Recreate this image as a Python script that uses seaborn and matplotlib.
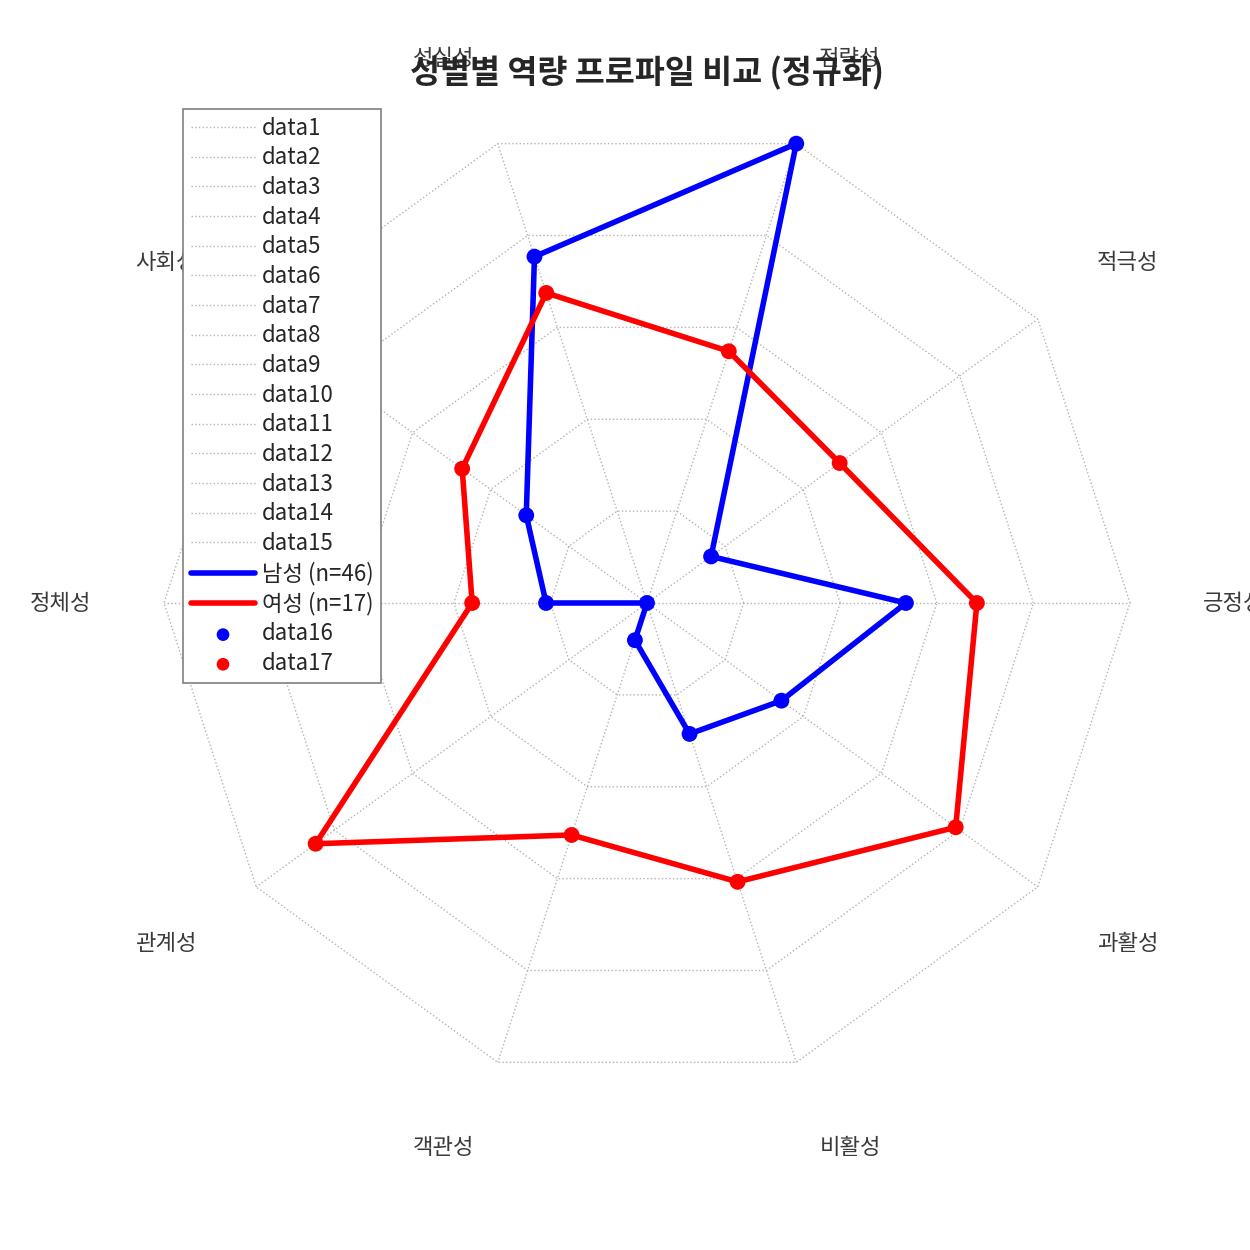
import numpy as np
import matplotlib
matplotlib.use("Agg")
import matplotlib.pyplot as plt
import seaborn as sns

# axes, counterclockwise starting from the right
categories = ["긍정성", "적극성", "전략성", "성실성", "사회성",
              "정체성", "관계성", "객관성", "비활성", "과활성"]
male = [0.536, 0.164, 1.000, 0.754, 0.309, 0.209, 0.000, 0.081, 0.285, 0.344]
female = [0.683, 0.493, 0.548, 0.675, 0.473, 0.362, 0.848, 0.505, 0.607, 0.790]
ring_levels = [0.2, 0.4, 0.6, 0.8, 1.0]
male_label = "남성 (n=46)"
female_label = "여성 (n=17)"
title = "성별별 역량 프로파일 비교 (정규화)"

sns.set_theme(style="white")
plt.rcParams["font.family"] = ["Noto Sans CJK KR", "DejaVu Sans"]

n = len(categories)
angles = np.arange(n) * 2 * np.pi / n


def to_xy(vals):
    vals = np.append(vals, vals[0])
    ang = np.append(angles, angles[0])
    return vals * np.cos(ang), vals * np.sin(ang)


fig = plt.figure(figsize=(12.5, 12.5), dpi=100)
ax = fig.add_axes([0, 0, 1, 1])
scale = 483.0
ax.set_xlim(-647 / scale, (1250 - 647) / scale)
ax.set_ylim(-(1250 - 603) / scale, 603 / scale)
ax.set_aspect("equal")
ax.axis("off")

grid_kw = dict(color="#b4b4b4", linestyle=":", linewidth=1.0)
k = 1
for lvl in ring_levels:
    gx, gy = to_xy(np.full(n, lvl))
    ax.plot(gx, gy, label="data%d" % k, **grid_kw)
    k += 1
for a in angles:
    ax.plot([0, np.cos(a)], [0, np.sin(a)], label="data%d" % k, **grid_kw)
    k += 1

mx, my = to_xy(np.array(male))
fx, fy = to_xy(np.array(female))
sns.lineplot(x=mx, y=my, sort=False, estimator=None, color="blue",
             linewidth=4, label=male_label, ax=ax)
sns.lineplot(x=fx, y=fy, sort=False, estimator=None, color="red",
             linewidth=4, label=female_label, ax=ax)
sns.scatterplot(x=mx[:-1], y=my[:-1], color="blue", s=130, edgecolor="none",
                label="data16", ax=ax, zorder=3)
sns.scatterplot(x=fx[:-1], y=fy[:-1], color="red", s=130, edgecolor="none",
                label="data17", ax=ax, zorder=3)

# labels sit a bit further out horizontally near the vertical axes
for a, name in zip(angles, categories):
    c, s_ = np.cos(a), np.sin(a)
    push = 0.015 + 0.05 * (1 - abs(c)) if abs(c) > 0.1 else 0.0
    lx = 1.2 * c + np.sign(c) * push
    ly = 1.2 * s_ if abs(c) > 0.5 else 1.185 * s_
    ax.text(lx, ly, name, ha="center", va="center",
            fontsize=16, color="#3a3a3a")

fig.text(0.5176, 1 - 73 / 1250, title, ha="center", va="center",
         fontsize=23.5, fontweight="bold", color="#262626")

leg = ax.legend(loc="upper left", bbox_to_anchor=(183 / 1250, 1 - 109 / 1250),
                bbox_transform=fig.transFigure, fontsize=16, frameon=True,
                fancybox=False, edgecolor="#808080", framealpha=1,
                handlelength=2.9, handletextpad=0.3, labelspacing=0.3,
                borderpad=0.35, borderaxespad=0, markerscale=0.8)
leg.get_frame().set_linewidth(1.2)
for t in leg.get_texts():
    t.set_color("#262626")

fig.savefig("out.png", dpi=100, facecolor="white")
